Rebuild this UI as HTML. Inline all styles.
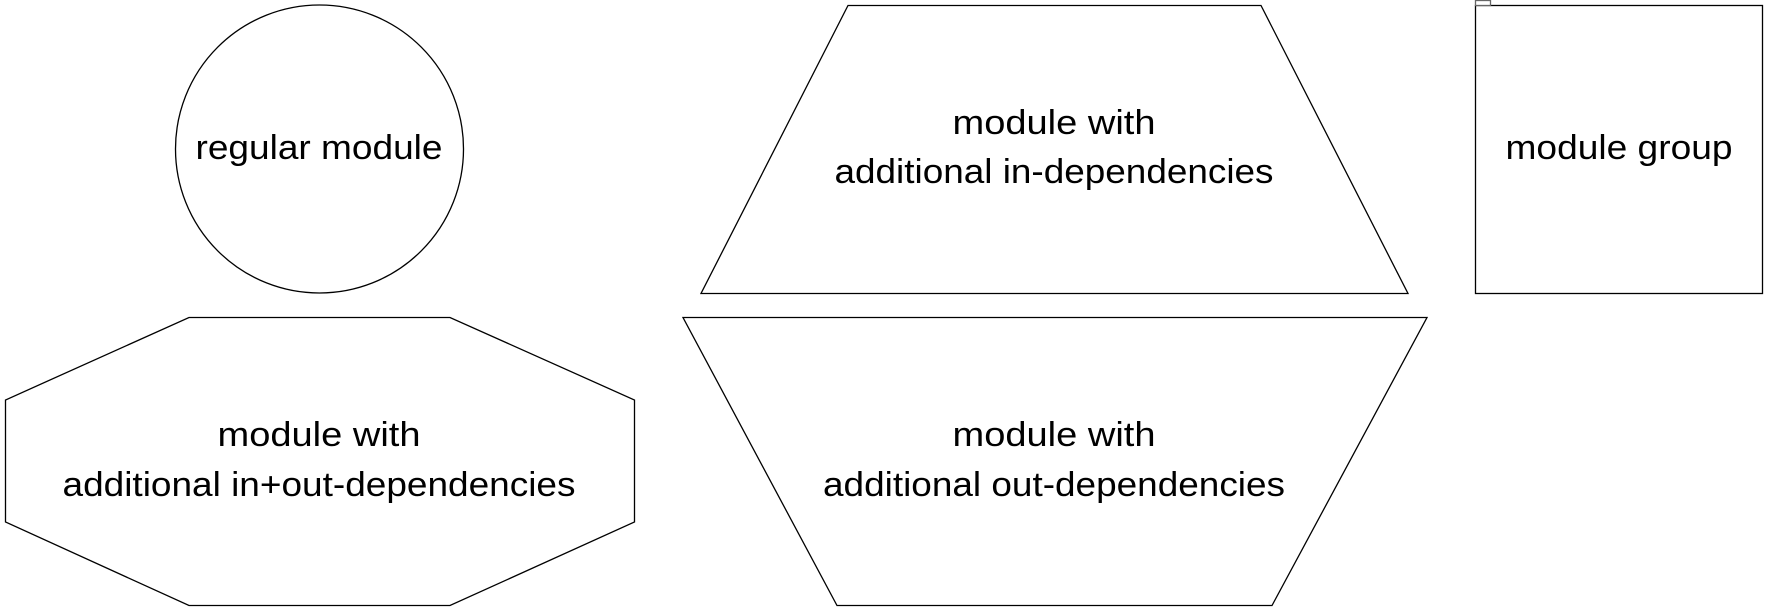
<!DOCTYPE html>
<html><head><meta charset="utf-8"><style>html,body{margin:0;padding:0;background:#fff}svg{display:block}</style></head>
<body>
<svg width="1768" height="611" viewBox="0 0 1768 611" xmlns="http://www.w3.org/2000/svg">
<g fill="#fff" stroke="#000" stroke-width="1.3">
<circle cx="319.5" cy="149" r="144"/>
<polygon points="848,5.5 1261,5.5 1408,293.5 701,293.5"/>
<rect x="1475.5" y="5.5" width="287" height="288"/>
<rect x="1475.5" y="0.5" width="15" height="5" stroke="#666"/>
<polygon points="189,317.5 450,317.5 634.5,400 634.5,522 450,605.5 189,605.5 5.5,522 5.5,400"/>
<polygon points="683,317.5 1427,317.5 1272,605.5 837,605.5"/>
</g>
<g font-family="Liberation Sans, sans-serif" font-size="34" fill="#000" text-anchor="middle" lengthAdjust="spacingAndGlyphs">
<text x="319" y="159" textLength="247" lengthAdjust="spacingAndGlyphs">regular module</text>
<text x="1054" y="134" textLength="203" lengthAdjust="spacingAndGlyphs">module with</text>
<text x="1054" y="183" textLength="439" lengthAdjust="spacingAndGlyphs">additional in-dependencies</text>
<text x="1619" y="159" textLength="227" lengthAdjust="spacingAndGlyphs">module group</text>
<text x="319" y="446" textLength="203" lengthAdjust="spacingAndGlyphs">module with</text>
<text x="319" y="496" textLength="513" lengthAdjust="spacingAndGlyphs">additional in+out-dependencies</text>
<text x="1054" y="446" textLength="203" lengthAdjust="spacingAndGlyphs">module with</text>
<text x="1054" y="496" textLength="462" lengthAdjust="spacingAndGlyphs">additional out-dependencies</text>
</g>
</svg>
</body></html>
